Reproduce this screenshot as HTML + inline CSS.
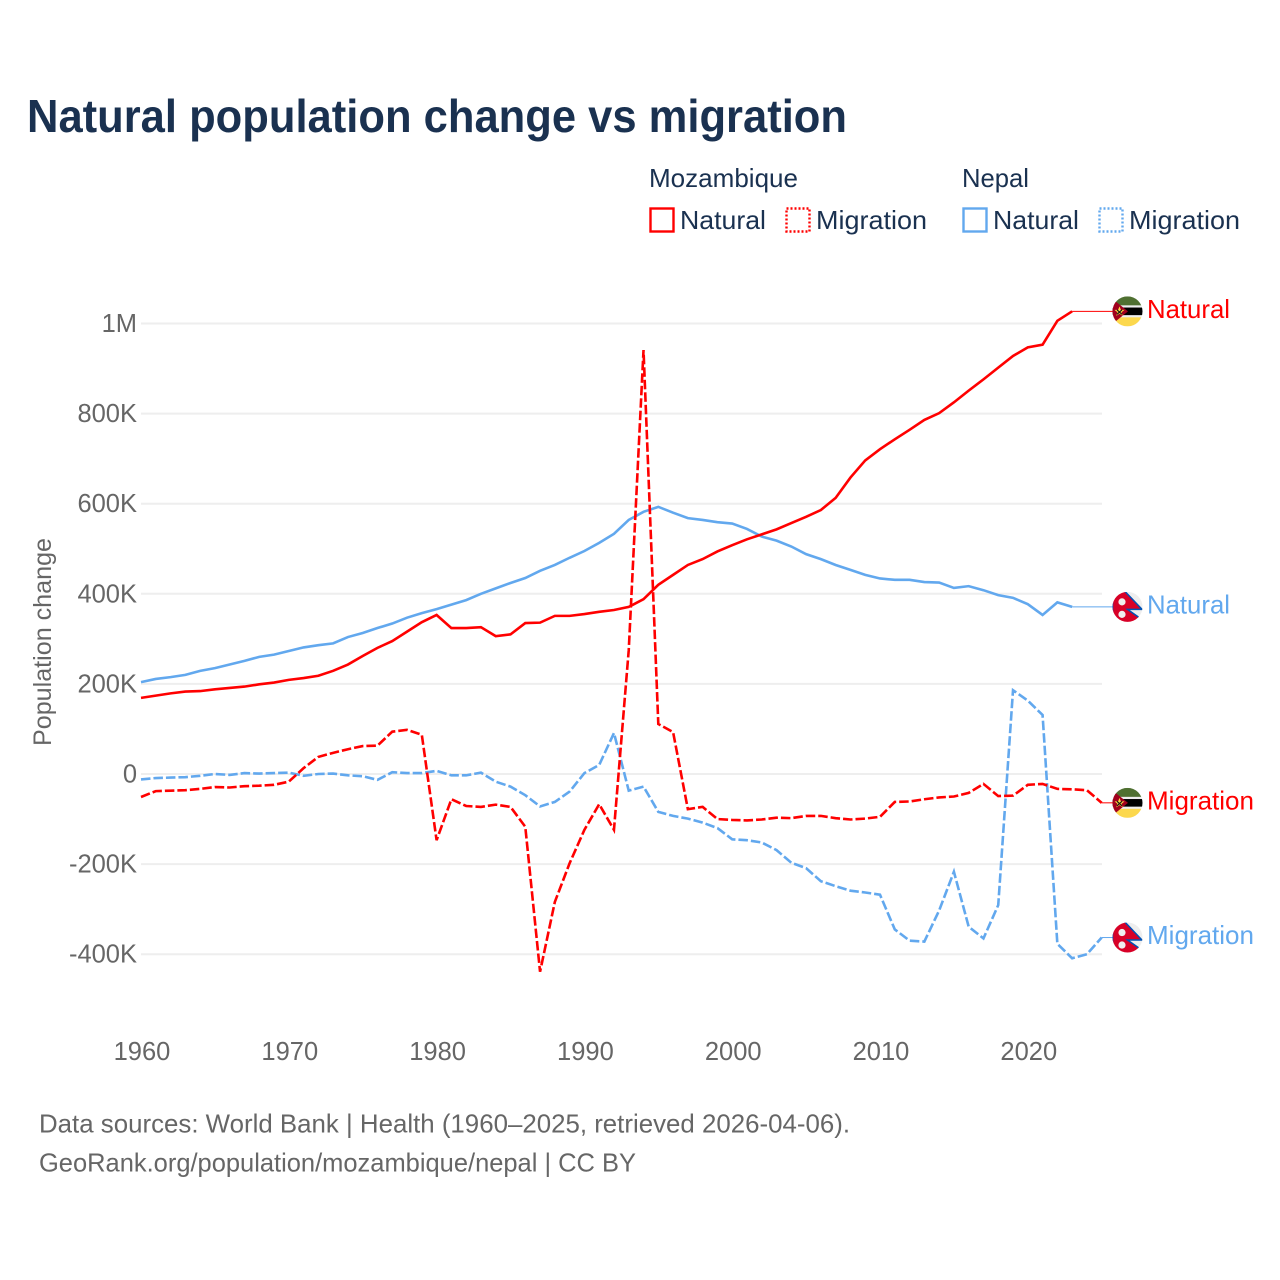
<!DOCTYPE html>
<html lang="en">
<head>
<meta charset="utf-8">
<title>Natural population change vs migration</title>
<style>
html,body{margin:0;padding:0;background:#fff;width:1280px;height:1280px;overflow:hidden}
svg{display:block}
text{font-family:"Liberation Sans",sans-serif}
</style>
</head>
<body>
<svg id="chart" xmlns="http://www.w3.org/2000/svg" width="1280" height="1280" viewBox="0 0 1280 1280">
<defs>
<clipPath id="flag-clip"><circle cx="0" cy="0" r="15"/></clipPath>
<g id="flag-mz" clip-path="url(#flag-clip)">
<rect x="-15" y="-15" width="30" height="30" fill="#eeeeee"/>
<rect x="-15" y="-15" width="30" height="9" fill="#4f7031"/>
<rect x="-15" y="-3.8" width="30" height="7.6" fill="#000000"/>
<rect x="-15" y="6" width="30" height="9" fill="#fcd84d"/>
<polygon points="-15,-12.5 0.5,0 -15,12.5" fill="#a2001d"/>
<polygon points="-8,-5 -6.6,-1.4 -3,-1.4 -5.9,0.9 -4.8,4.5 -8,2.3 -11.2,4.5 -10.1,0.9 -13,-1.4 -9.4,-1.4" fill="#ffda44"/>
<path d="M-10.5,-1.5 L-5.5,3 M-5.5,-1.5 L-10.5,3" stroke="#111" stroke-width="1.1"/>
</g>
<g id="flag-np" clip-path="url(#flag-clip)">
<rect x="-15" y="-15" width="30" height="30" fill="#eeeeee"/>
<polygon points="-15,-17 -4,-17 14.5,2.5 0,2.5 15,13 7,17 -15,17" fill="#d80027" stroke="#0052b4" stroke-width="1.5"/>
<circle cx="-5.5" cy="-5" r="3.6" fill="#eeeeee"/>
<circle cx="-5.5" cy="7.5" r="3.6" fill="#eeeeee"/>
</g>
</defs>

<text x="27" y="132" font-size="46" font-weight="700" fill="#1a3150" textLength="820" lengthAdjust="spacingAndGlyphs">Natural population change vs migration</text>

<g font-size="26" fill="#1a3150">
<text x="649" y="187" textLength="149" lengthAdjust="spacingAndGlyphs">Mozambique</text>
<text x="962" y="187" textLength="67" lengthAdjust="spacingAndGlyphs">Nepal</text>
<rect x="650.5" y="208.5" width="23" height="23" fill="none" stroke="#ff0000" stroke-width="2.4"/>
<text x="680" y="229" textLength="86" lengthAdjust="spacingAndGlyphs">Natural</text>
<rect x="786.5" y="208.5" width="23" height="23" fill="none" stroke="#ff0000" stroke-width="2.4" stroke-dasharray="2 2"/>
<text x="816" y="229" textLength="111" lengthAdjust="spacingAndGlyphs">Migration</text>
<rect x="963.5" y="208.5" width="23" height="23" fill="none" stroke="#62a8ee" stroke-width="2.4"/>
<text x="993" y="229" textLength="86" lengthAdjust="spacingAndGlyphs">Natural</text>
<rect x="1099.5" y="208.5" width="23" height="23" fill="none" stroke="#62a8ee" stroke-width="2.4" stroke-dasharray="2 2"/>
<text x="1129" y="229" textLength="111" lengthAdjust="spacingAndGlyphs">Migration</text>
</g>

<g id="grid"></g>
<g id="y-axis" font-size="25.5" fill="#666666" text-anchor="end"></g>
<g id="x-axis" font-size="25.5" fill="#666666" text-anchor="middle"></g>
<text transform="translate(51,642) rotate(-90)" text-anchor="middle" font-size="25" fill="#666666" textLength="208" lengthAdjust="spacingAndGlyphs">Population change</text>
<g id="series" fill="none" stroke-width="2.6" stroke-linejoin="miter"></g>
<g id="end-labels" font-size="26"></g>

<g font-size="26" fill="#666666">
<text x="39" y="1132.5" textLength="811" lengthAdjust="spacingAndGlyphs">Data sources: World Bank | Health (1960–2025, retrieved 2026-04-06).</text>
<text x="39" y="1171.5" textLength="597" lengthAdjust="spacingAndGlyphs">GeoRank.org/population/mozambique/nepal | CC BY</text>
</g>
</svg>

<script>
const startYear = 1960;
const yTickValues = [1000, 800, 600, 400, 200, 0, -200, -400];
const yTickLabels = ["1M", "800K", "600K", "400K", "200K", "0", "-200K", "-400K"];
const xTickYears = [1960, 1970, 1980, 1990, 2000, 2010, 2020];

const mozambiqueNatural = [
  169,174,179,183,184,188,191,194,199,203,
  209,213,218,229,243,262,280,295,316,337,
  353,324,324,326,306,310,335,336,351,351,
  355,360,364,371,388,420,442,464,477,494,
  508,521,532,543,557,571,586,613,658,696,
  721,743,764,786,801,825,851,876,902,928,
  947,953,1006,1027
];
const nepalNatural = [
  204,211,215,220,229,235,243,251,260,265,
  273,281,286,290,304,313,324,334,347,357,
  366,376,386,400,412,424,435,451,464,480,
  495,513,533,564,582,593,580,568,564,559,
  556,544,527,518,505,488,477,464,453,442,
  434,431,431,426,425,413,417,408,397,391,
  377,353,381,371
];
const mozambiqueMigration = [
  -51,-38,-37,-36,-33,-29,-30,-27,-26,-24,
  -17,13,38,47,55,62,63,94,98,87,
  -147,-56,-71,-73,-68,-73,-117,-439,-284,-198,
  -124,-67,-124,275,941,111,93,-78,-73,-100,
  -102,-103,-101,-97,-98,-93,-93,-98,-101,-99,
  -95,-62,-61,-56,-52,-50,-42,-22,-49,-48,
  -24,-22,-33,-34,-36,-64
];
const nepalMigration = [
  -12,-9,-8,-7,-4,0,-2,2,1,2,
  3,-4,0,1,-3,-5,-13,4,2,2,
  7,-3,-3,3,-17,-28,-47,-72,-62,-39,
  2,20,91,-37,-28,-84,-93,-99,-108,-120,
  -145,-147,-152,-169,-197,-209,-238,-249,-259,-263,
  -268,-345,-370,-372,-303,-217,-339,-365,-291,186,
  163,131,-377,-409,-400,-363
];

const SVG_NS = "http://www.w3.org/2000/svg";
const RED = "#ff0000";
const BLUE = "#62a8ee";

function xScale(year) { return 141 + (year - startYear) * 14.78; }
function yScale(k) { return 774 - k * 0.4505; }
function make(tag, attrs, parent) {
  const el = document.createElementNS(SVG_NS, tag);
  for (const key in attrs) el.setAttribute(key, attrs[key]);
  parent.appendChild(el);
  return el;
}

const grid = document.getElementById("grid");
const yAxis = document.getElementById("y-axis");
const xAxis = document.getElementById("x-axis");
const seriesLayer = document.getElementById("series");
const labelLayer = document.getElementById("end-labels");

yTickValues.forEach(function (value, i) {
  const y = yScale(value);
  const line = make("line", { x1: 141, x2: 1102, y1: y, y2: y, stroke: "#eeeeee", "stroke-width": 2 }, grid);
  
  
  const tick = make("text", { x: 137, y: y + 8.5 }, yAxis);
  tick.textContent = yTickLabels[i];
  
  
});

xTickYears.forEach(function (year) {
  const tick = make("text", { x: xScale(year) + 1, y: 1060 }, xAxis);
  tick.textContent = String(year);
  
  
});

function drawSeries(values, color, dashed, flagId, labelText, seriesName) {
  const points = values.map(function (v, i) {
    return xScale(startYear + i).toFixed(2) + "," + yScale(v).toFixed(2);
  });
  const attrs = { points: points.join(" "), stroke: color };
  if (dashed) attrs["stroke-dasharray"] = "9.5 3";
  const line = make("polyline", attrs, seriesLayer);
  
  

  const lastX = xScale(startYear + values.length - 1);
  const lastY = yScale(values[values.length - 1]);
  const connector = make("line", { x1: lastX, x2: 1113, y1: lastY, y2: lastY, stroke: color, "stroke-width": 1 }, seriesLayer);
  
  

  const flag = make("use", { href: "#" + flagId, transform: "translate(1127.5," + lastY + ")" }, labelLayer);
  
  

  const label = make("text", {
    x: 1147, y: lastY + 6.5, fill: color,
    textLength: labelText === "Natural" ? 83 : 107,
    lengthAdjust: "spacingAndGlyphs"
  }, labelLayer);
  label.textContent = labelText;
  
  
}

drawSeries(nepalMigration, BLUE, true, "flag-np", "Migration", "nepal-migration");
drawSeries(nepalNatural, BLUE, false, "flag-np", "Natural", "nepal-natural");
drawSeries(mozambiqueMigration, RED, true, "flag-mz", "Migration", "mozambique-migration");
drawSeries(mozambiqueNatural, RED, false, "flag-mz", "Natural", "mozambique-natural");
</script>
</body>
</html>
